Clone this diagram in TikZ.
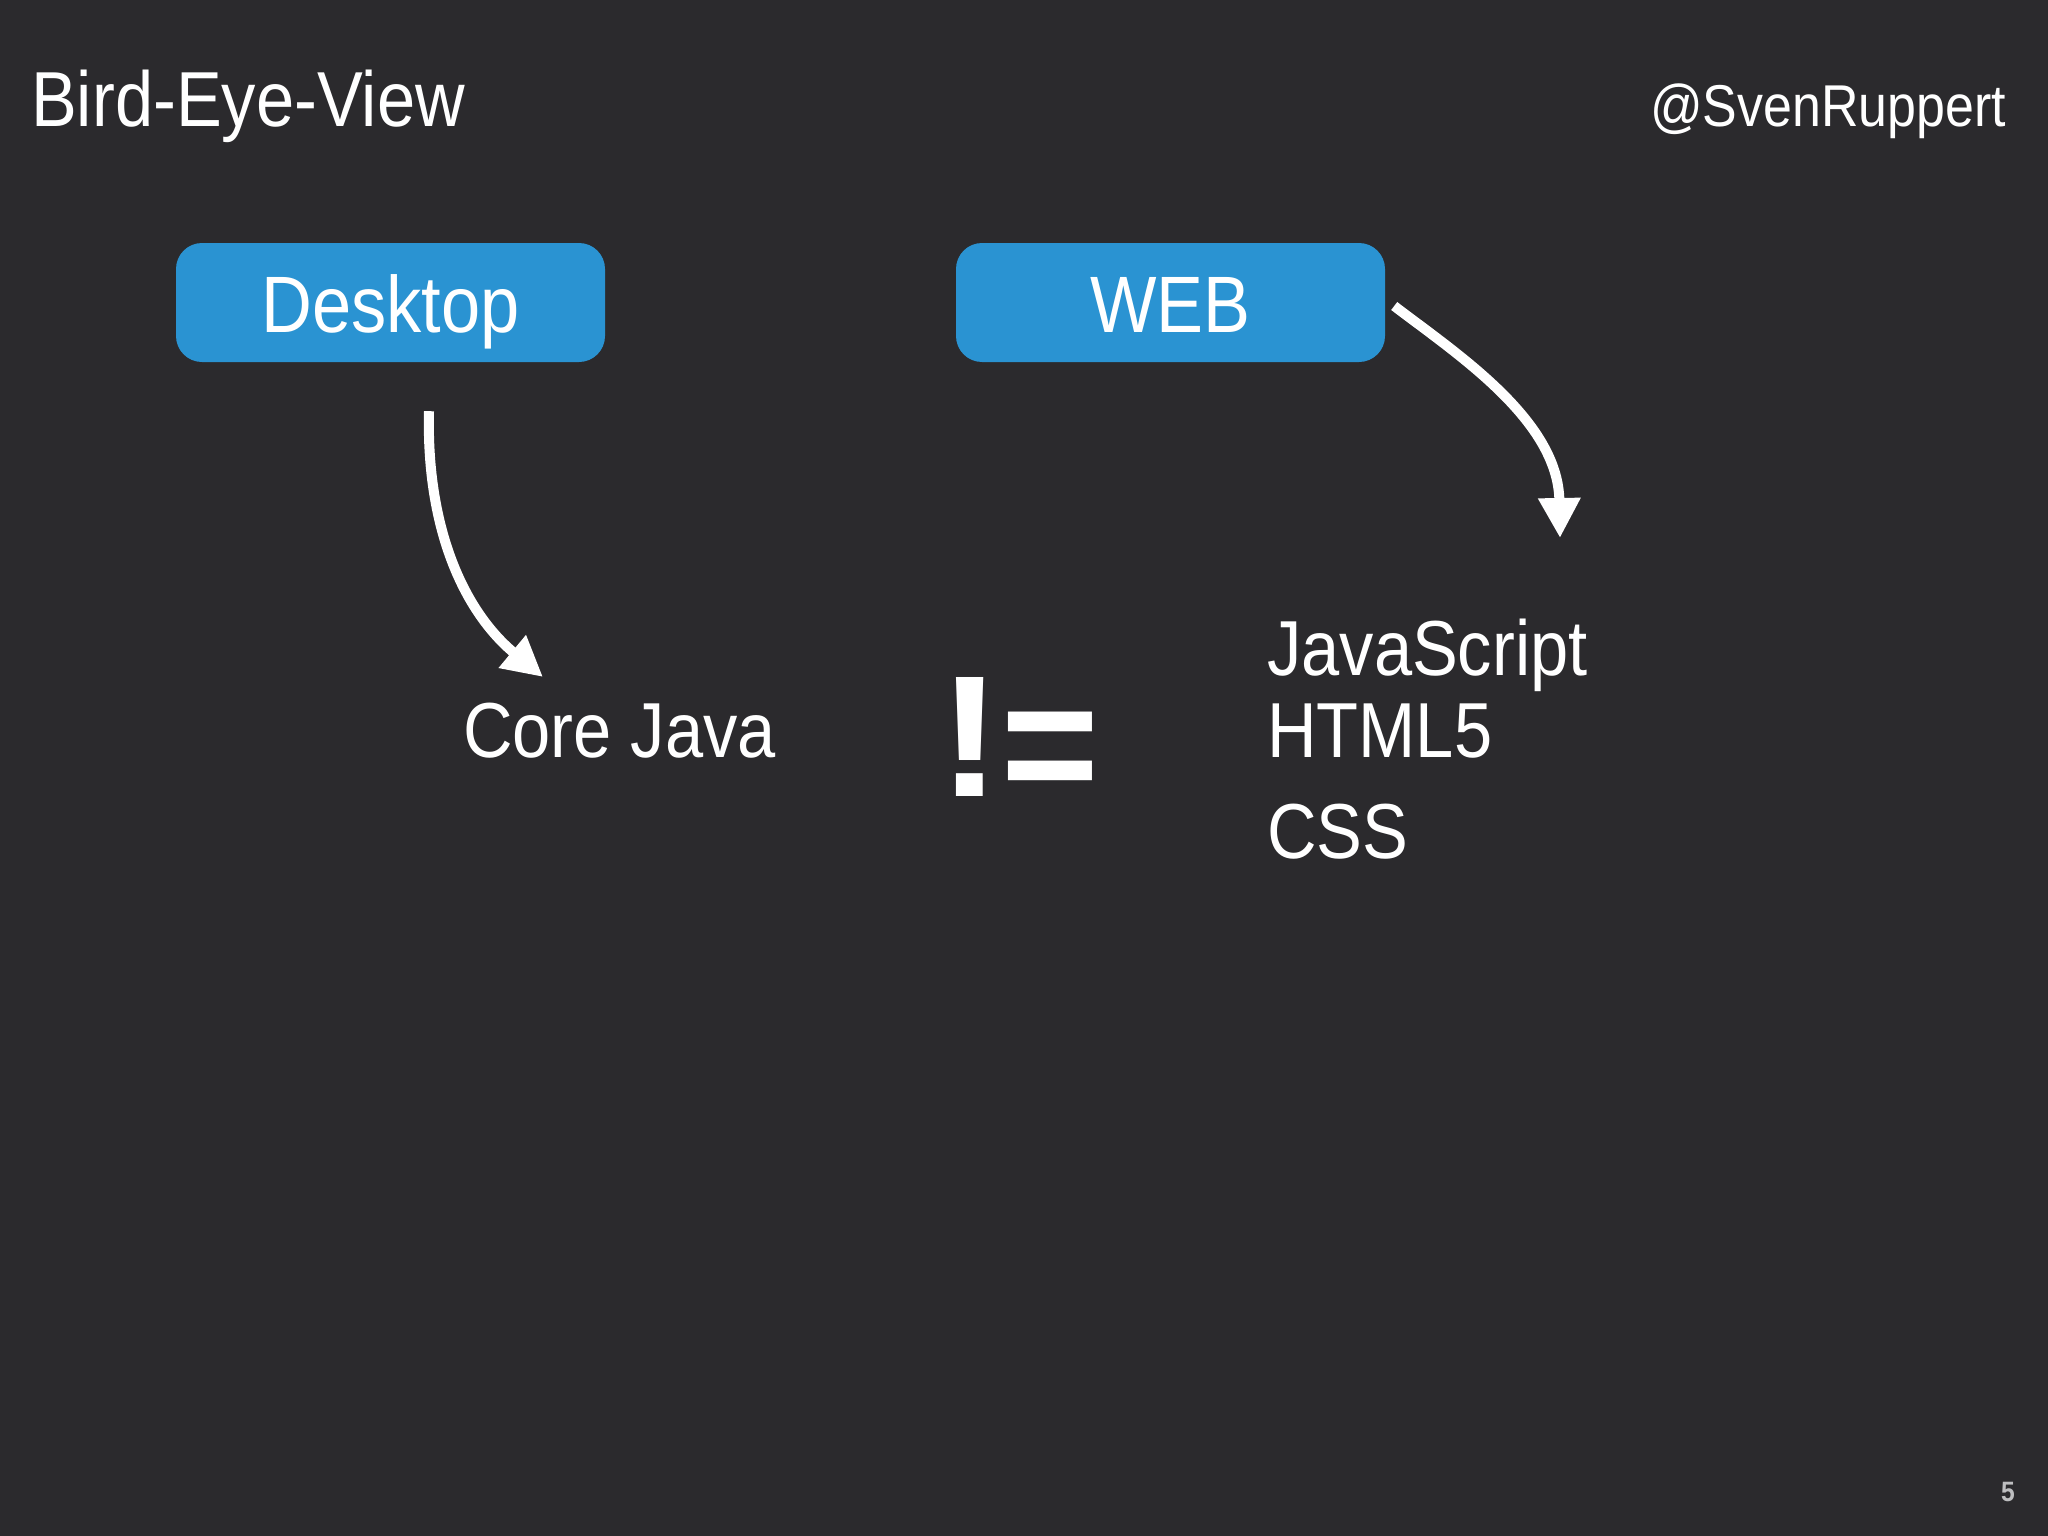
\documentclass[tikz,border=0pt]{standalone}
\usepackage{graphicx}
\usepackage{fontspec}
\setmainfont{Liberation Sans}[FakeStretch=0.88]
\usetikzlibrary{arrows.meta,calc}
\definecolor{bgcol}{RGB}{43,42,45}
\definecolor{boxblue}{RGB}{42,147,210}
\definecolor{pagegray}{RGB}{190,190,192}
\tikzset{
  txt/.style={text=white, inner sep=0pt, font=\fontsize{78}{80}\selectfont},
  bluebox/.style={fill=boxblue, rounded corners=26pt, minimum width=429pt,
    minimum height=119pt, text height=70pt, text depth=10pt, inner sep=0pt,
    text=white, font=\fontsize{80}{82}\selectfont},
  flow/.style={draw=white, line width=10pt, -{Triangle[length=40pt,width=40pt]}},
}
\begin{document}
\begin{tikzpicture}[x=1pt,y=-1pt]
\fill[bgcol] (0,0) rectangle (2048,1536);
\useasboundingbox (0,0) rectangle (2048,1536);

\node[txt, anchor=base west] (title) at (31,127) {Bird-Eye-View};
\node[txt, anchor=base east, font=\fontsize{59}{60}\selectfont] (handle) at (2006,127) {@SvenRuppert};

\node[bluebox] (desk) at (390.5,302.5) {Desktop};
\node[bluebox] (web) at (1170.5,302.5) {WEB};

\node[txt, anchor=base west] (core) at (463,757) {Core Java};
\node[txt, anchor=base west] (js) at (1267,675) {JavaScript};
\node[txt, anchor=base west] (html) at (1267,757) {HTML5};
\node[txt, anchor=base west] (css) at (1267,858) {CSS};

\node[txt, anchor=base west, font=\fontsize{173}{173}\selectfont\bfseries] (neq) at (938,796)
  {\scalebox{1.25}[1]{!}\raisebox{-10pt}{\scalebox{1.1}[1.05]{=}}};

\node[anchor=base, inner sep=0pt, text=pagegray, font=\fontsize{28}{28}\selectfont\bfseries] (page) at (2008,1501) {5};

\draw[flow] ($(desk.south)+(38.5,49)$) .. controls (426,532) and (466,613) .. ($(core.base west)+(80,-80)$);
\draw[flow] ($(web.east)+(9,3.5)$) .. controls (1457,354) and (1558,420) .. ($(js.base west)+(293,-137)$);
\end{tikzpicture}
\end{document}
